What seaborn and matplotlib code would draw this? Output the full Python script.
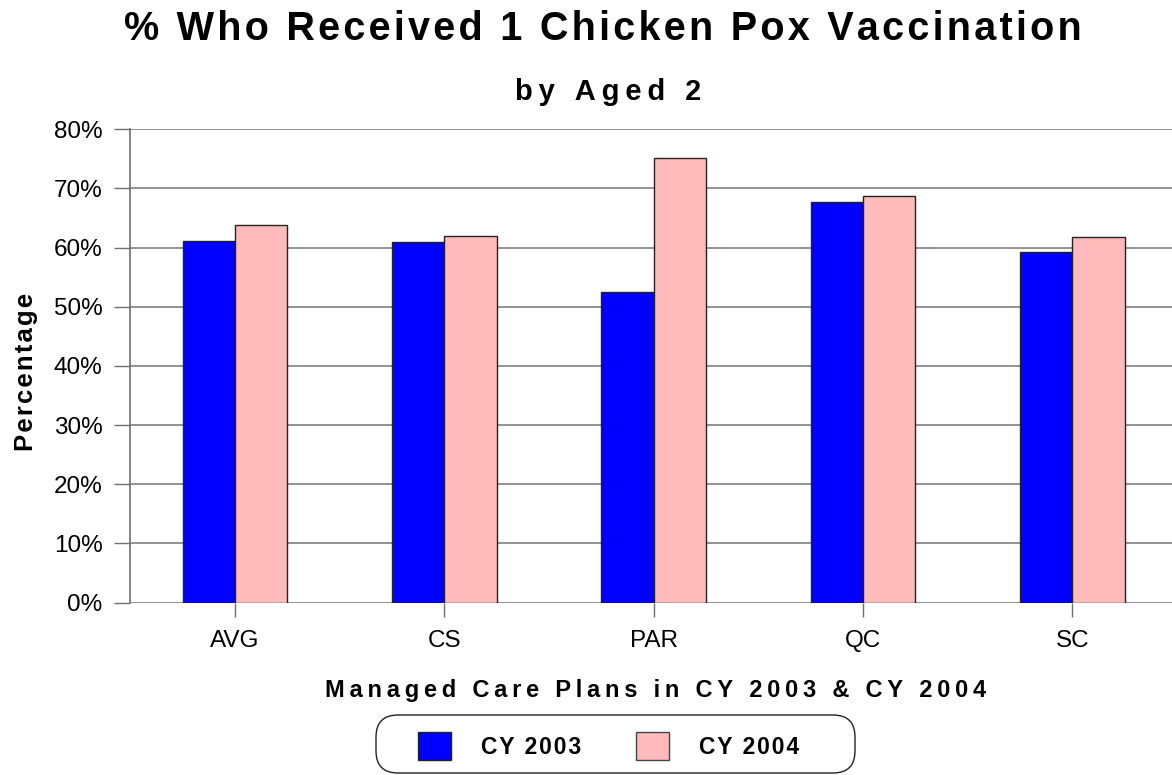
import matplotlib
matplotlib.use("Agg")
import matplotlib.pyplot as plt
import seaborn as sns
import pandas as pd
from matplotlib.ticker import FuncFormatter, FixedLocator
from matplotlib.patches import Patch, FancyBboxPatch
from matplotlib.transforms import IdentityTransform

plans = ["AVG", "CS", "PAR", "QC", "SC"]
cy2003 = [61.2, 60.9, 52.5, 67.7, 59.3]
cy2004 = [63.9, 62.0, 75.1, 68.8, 61.8]
series_names = ["CY 2003", "CY 2004"]
colors = ["#0000FF", "#FFBBBB"]

df = pd.DataFrame({
    "Plan": plans * 2,
    "Value": cy2003 + cy2004,
    "Series": [series_names[0]] * len(plans) + [series_names[1]] * len(plans),
})

sns.set_style("white")
plt.rcParams["font.family"] = ["Liberation Sans", "DejaVu Sans"]
plt.rcParams["text.color"] = "black"
plt.rcParams["axes.labelcolor"] = "black"


def track(s, sp):
    return sp.join(list(s))


HAIR = "\u200a"
THIN = "\u2009"

fig = plt.figure(figsize=(11.72, 7.75), dpi=100)
W, H = 1172, 775
ax = fig.add_axes([130.4 / W, (H - 602.5) / H, 1046.5 / W, (602.5 - 129.3) / H])

sns.barplot(data=df, x="Plan", y="Value", hue="Series", order=plans,
            hue_order=series_names, palette=colors, saturation=1, width=0.5, dodge=True,
            edgecolor="#222222", linewidth=1.0, errorbar=None, legend=False, ax=ax,
            zorder=3)

ax.set_xlim(-0.5, len(plans) - 0.5)
ax.set_ylim(0, 80)
ax.yaxis.set_major_locator(FixedLocator(list(range(0, 81, 10))))
ax.yaxis.set_major_formatter(FuncFormatter(lambda v, p: f"{v:.0f}%"))
ax.grid(axis="y", color="#808080", linewidth=1.2, zorder=0)
ax.set_axisbelow(True)
for s in ["top", "right", "bottom"]:
    ax.spines[s].set_visible(False)
ax.spines["left"].set_color("#707070")
ax.spines["left"].set_linewidth(1.2)

ax.tick_params(axis="y", length=11.5, width=1.0, color="#707070", pad=8.5,
               labelsize=17.5, left=True, labelcolor="black")
ax.tick_params(axis="x", length=10, width=1.0, color="#707070", pad=10,
               labelsize=17.5, bottom=True, labelcolor="black")
ax.set_xticks(range(len(plans)), minor=False)
ax.set_xticks([i + 0.5 for i in range(len(plans) - 1)], minor=True)
ax.tick_params(axis="x", which="minor", length=2, width=1.5, direction="in", color="black")

ax.set_xlabel("")
ax.set_ylabel("")

fig.text(26 / W, 1 - 372 / H, track("Percentage", HAIR), rotation=90, ha="center",
         va="center", fontsize=18.5, fontweight="heavy", color="black")
fig.text(656 / W, 1 - 690 / H, track("Managed Care Plans in CY 2003 & CY 2004", THIN),
         ha="center", va="center", fontsize=17, fontweight="bold", color="black")
fig.text(603 / W, 1 - 29 / H, track("% Who Received 1 Chicken Pox Vaccination", HAIR),
         ha="center", va="center", fontsize=28.5, fontweight="bold", color="black")
fig.text(608 / W, 1 - 92 / H, track("by Aged 2", THIN), ha="center", va="center",
         fontsize=21, fontweight="bold", color="black")

# rounded legend frame (pixel coordinates)
frame = FancyBboxPatch((376, H - 773), 855 - 376, 58,
                       boxstyle="round,pad=0.0,rounding_size=22",
                       transform=IdentityTransform(), facecolor="white",
                       edgecolor="#222222", linewidth=1.0)
fig.patches.append(frame)

handles = [Patch(facecolor=colors[0], edgecolor="#222222"),
           Patch(facecolor=colors[1], edgecolor="#444444")]
leg = fig.legend(handles, [track(n, HAIR) for n in series_names], loc="center",
                 bbox_to_anchor=(608.5 / W, 1 - 746 / H),
                 ncol=2, frameon=False,
                 prop={"weight": "bold", "size": 16.5},
                 handlelength=1.44, handleheight=1.44, handletextpad=1.31,
                 columnspacing=2.4, borderpad=0.3, borderaxespad=0)

fig.savefig("out.png", dpi=100)
